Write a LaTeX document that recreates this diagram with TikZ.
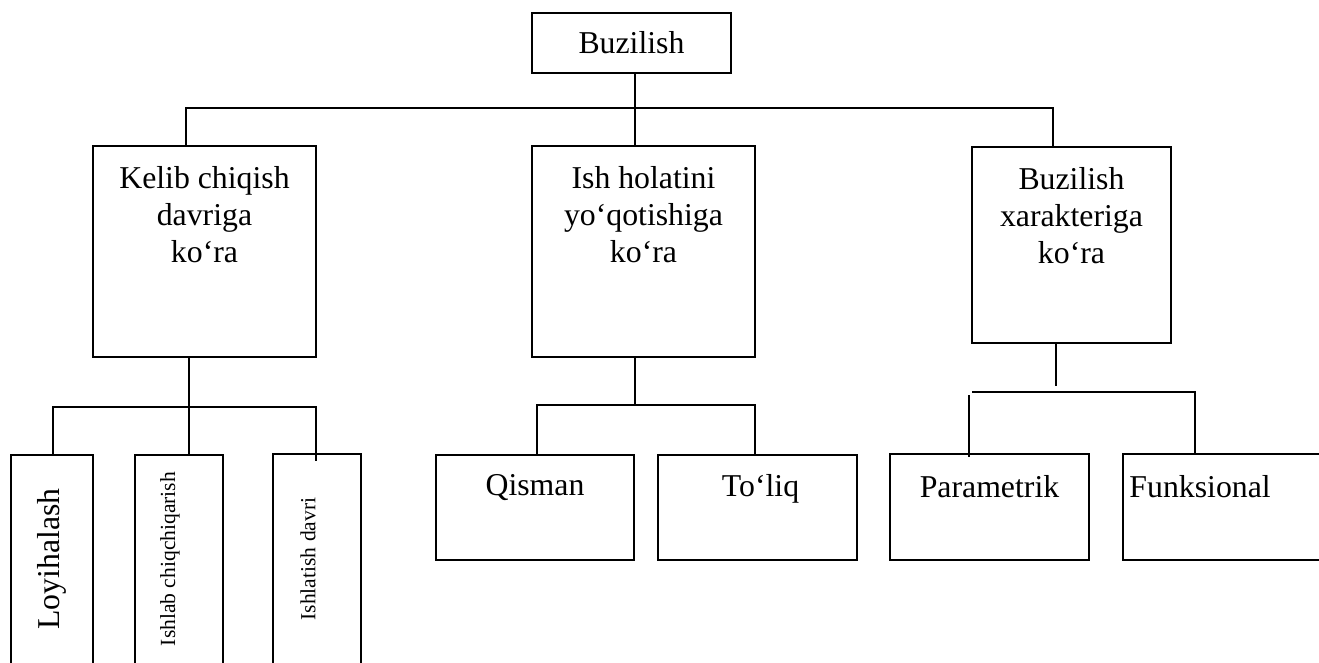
\documentclass[tikz,border=0pt]{standalone}
\usepackage{fontspec}
\setmainfont{Liberation Serif}
\usetikzlibrary{calc,positioning,fit}
\tikzset{
 bz line/.style={line width=.85pt},
 bz box/.style={draw,rectangle,line width=.85pt,inner sep=0pt,outer sep=0pt},
 bz head/.style={anchor=north,inner sep=0pt,align=center,
                 font=\fontsize{14}{16.3}\selectfont},
 bz leaf/.style={anchor=north,inner sep=0pt,font=\fontsize{14}{16.3}\selectfont},
 bz vert/.style={rotate=90,inner sep=0pt,font=\fontsize{9.5}{11}\selectfont}
}

\begin{document}
\begin{tikzpicture}[x=.4405pt,y=-.4405pt]
 \useasboundingbox (0,0) rectangle (1319,662);
 \clip (0,0) rectangle (1319,662);
 % root
 \node[bz box,fit={(532,13) (731,73)}] (root) {};
 \node[inner sep=0pt,font=\fontsize{14}{16.3}\selectfont] (roott) at (root.center) {Buzilish};
 % second level
 \foreach \n/\xa/\ya/\xb/\yb in {k1/93/146/316/357,k2/532/146/755/357,k3/972/147/1171/343}{
   \node[bz box,fit={(\xa,\ya) (\xb,\yb)}] (\n) {};
 }
 \node[bz head] (k1t) at ($(k1.north)+(0,20)$) {Kelib chiqish\\davriga\\ko‘ra};
 \node[bz head] (k2t) at ($(k2.north)+(0,20)$) {Ish holatini\\yo‘qotishiga\\ko‘ra};
 \node[bz head] (k3t) at ($(k3.north)+(0,20)$) {Buzilish\\xarakteriga\\ko‘ra};
 % third level
 \foreach \n/\xa/\ya/\xb/\yb in {l1/11/455/93/700,l2/135/455/223/700,l3/273/454/361/700,
     q1/436/455/634/560,q2/658/455/857/560,p1/890/454/1089/560,p2/1123/454/1340/560}{
   \node[bz box,fit={(\xa,\ya) (\xb,\yb)}] (\n) {};
 }
 \node[bz vert,font=\fontsize{14}{16}\selectfont] (l1t) at (52,559) {Loyihalash};
 \node[bz vert] (l2t) at (170,559) {Ishlab chiqchiqarish};
 \node[bz vert] (l3t) at (308,559) {Ishlatish davri};
 \node[bz leaf] (q1t) at ($(q1.north)+(0,19)$) {Qisman};
 \node[bz leaf] (q2t) at ($(q2.north)+(3,19)$) {To‘liq};
 \node[bz leaf] (p1t) at ($(p1.north)+(0,21)$) {Parametrik};
 \node[bz leaf,anchor=north west] (p2t) at ($(p2.north west)+(6,21)$) {Funksional};
 % connectors, level 1
 \coordinate (j0) at (635,108);
 \coordinate (j1) at (186,108);
 \coordinate (j3) at (1053,108);
 \draw[bz line] (root.south -| j0) -- (k2.north -| j0);
 \draw[bz line] (k1.north -| j1) -- (j1) -- (j3) -- (k3.north -| j3);
 % connectors, left
 \coordinate (m1) at (189,407);
 \coordinate (m1a) at (53,407);
 \coordinate (m1b) at (316,407);
 \draw[bz line] (k1.south -| m1) -- (l2.north -| m1);
 \draw[bz line] (l1.north -| m1a) -- (m1a) -- (m1b) -- ($(l3.north -| m1b)+(0,7)$);
 % connectors, middle
 \coordinate (m2) at (635,405);
 \coordinate (m2a) at (537,405);
 \coordinate (m2b) at (755,405);
 \draw[bz line] (k2.south -| m2) -- (m2);
 \draw[bz line] (q1.north -| m2a) -- (m2a) -- (m2b) -- (q2.north -| m2b);
 % connectors, right
 \coordinate (m3) at (1056,386);
 \coordinate (m3a) at (972,392);
 \coordinate (m3b) at (1195,392);
 \draw[bz line] (k3.south -| m3) -- (m3);
 \draw[bz line] (m3a) -- (m3b) -- (p2.north -| m3b);
 \draw[bz line] ($(m3a)+(-3,3)$) -- ($(p1.north -| m3a)+(-3,3)$);
\end{tikzpicture}
\end{document}
